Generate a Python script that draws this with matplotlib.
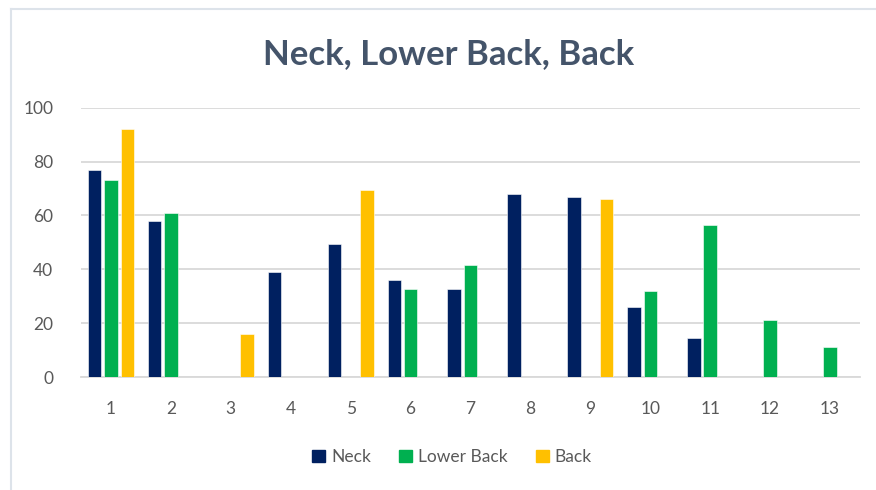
import numpy as np
import matplotlib.pyplot as plt
from matplotlib.lines import Line2D

# data (nan = no bar)
categories = [str(i) for i in range(1, 14)]
neck = [77, 58, np.nan, 39, 49.5, 36, 32.5, 68, 67, 26, 14.5, np.nan, np.nan]
lower_back = [73, 61, np.nan, np.nan, np.nan, 32.5, 41.5, np.nan, np.nan, 32, 56.5, 21, 11]
back = [92, np.nan, 16, np.nan, 69.5, np.nan, np.nan, np.nan, 66, np.nan, np.nan, np.nan, np.nan]

series = [("Neck", neck, "#002060"),
          ("Lower Back", lower_back, "#00B050"),
          ("Back", back, "#FFC000")]

plt.rcParams['font.family'] = ['Lato', 'DejaVu Sans']
txt = '#595959'

fig = plt.figure(figsize=(8.76, 4.9), dpi=100)
ax = fig.add_axes([81 / 876, 1 - 377 / 490, (860 - 81) / 876, (377 - 107.7) / 490])

x = np.arange(1, len(categories) + 1)
step = 0.272
width = 0.225
for k, (name, vals, col) in enumerate(series):
    ax.bar(x + (k - 1) * step, vals, width, color=col, label=name,
           edgecolor='white', linewidth=0.4, zorder=3)

ax.set_xlim(0.5, 13.5)
ax.set_ylim(0, 100)
ax.set_yticks(range(0, 101, 20))
ax.set_xticks(x)
ax.set_xticklabels(categories)
ax.yaxis.grid(True, color='#D9D9D9', linewidth=1.3, zorder=0)
ax.tick_params(axis='both', length=0, labelsize=12.5, colors=txt)
ax.tick_params(axis='y', pad=20)
ax.tick_params(axis='x', pad=17)
for s in ['top', 'right', 'left']:
    ax.spines[s].set_visible(False)
ax.spines['bottom'].set_color('#D9D9D9')
ax.spines['bottom'].set_linewidth(1.3)

fig.text(449 / 876, 1 - 54 / 490, "Neck, Lower Back, Back", ha='center', va='center',
         fontsize=25, fontweight='bold', color='#44546A')

handles = [plt.Rectangle((0, 0), 1, 1, color=c) for _, _, c in series]
fig.legend(handles, [n for n, _, _ in series], loc='center', bbox_to_anchor=(452 / 876, 1 - 457 / 490),
           ncol=3, frameon=False, fontsize=12.5, labelcolor=txt, handlelength=0.75, handleheight=0.75,
           handletextpad=0.35, columnspacing=1.6)

# chart border (left and top only visible)
fig.add_artist(Line2D([11 / 876, 11 / 876], [0, 1 - 9 / 490], transform=fig.transFigure,
                      color='#DDE3EA', linewidth=1.5))
fig.add_artist(Line2D([11 / 876, 1], [1 - 9 / 490, 1 - 9 / 490], transform=fig.transFigure,
                      color='#DDE3EA', linewidth=1.5))

fig.savefig('out.png', dpi=100)
